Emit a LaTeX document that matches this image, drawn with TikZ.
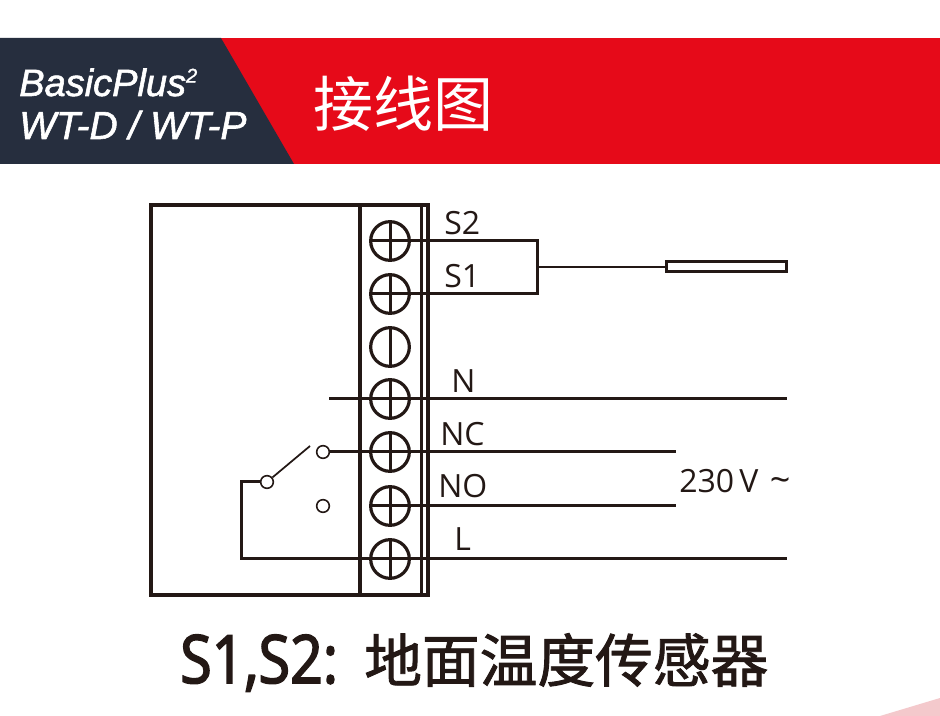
\documentclass[tikz,border=0pt]{standalone}
\usepackage{fontspec}
\setmainfont{Open Sans}
\newfontfamily\cjkreg{Noto Sans CJK SC}
\newfontfamily\cjkcap{Noto Sans CJK SC}[FakeBold=1.5]
\newfontfamily\capfont{Open Sans}[FakeBold=2.5,FakeStretch=0.86]
\newfontfamily\headfont{Liberation Sans}[ItalicFeatures={FakeBold=1.5}]
\definecolor{ink}{HTML}{231815}
\definecolor{bandred}{HTML}{E60A19}
\definecolor{banddark}{HTML}{262E3E}
\definecolor{cornerpink}{HTML}{F4C9CC}
\tikzset{
  wire/.style={draw=ink,line width=2.25pt},
  thinwire/.style={draw=ink,line width=1.9pt},
  boxline/.style={draw=ink,line width=2.3pt},
  screw/.style={circle,draw=ink,line width=2.4pt,minimum size=29pt,inner sep=0pt,fill=white},
  contact/.style={circle,draw=ink,line width=1.2pt,minimum size=9.5pt,inner sep=0pt,fill=white},
  termlabel/.style={text=ink,font=\fontsize{24}{24}\selectfont,inner sep=0pt},
}
\begin{document}
\begin{tikzpicture}[x=0.75pt,y=-0.75pt]
\useasboundingbox (0,0) rectangle (940,716);
\fill[white] (0,0) rectangle (940,716);
\fill[cornerpink] (880,716) -- (940,698) -- (940,716) -- cycle;
% header band
\fill[bandred] (0,38) rectangle (940,164);
\fill[banddark] (0,38) -- (221,38) -- (294,164) -- (0,164) -- cycle;
\node[anchor=base west,inner sep=0pt,text=white,font=\headfont\itshape\fontsize{28.5}{28.5}\selectfont] (brand) at (19,96) {BasicPlus\raisebox{10pt}{\fontsize{15}{15}\selectfont 2}};
\node[anchor=base west,inner sep=0pt,text=white,font=\headfont\itshape\fontsize{29.3}{29.3}\selectfont] (model) at (19,139) {WT-D / WT-P};
\node[anchor=base west,inner sep=0pt,text=white,font=\cjkreg\fontsize{45}{45}\selectfont] (title) at (313,127) {接线图};
% housing
\draw[boxline] (151,205) rectangle (428,595);
\draw[boxline] (360,205) -- (360,595);
\draw[boxline] (421.5,205) -- (421.5,595);
% screws
\node[screw] (t1) at (390,241) {};
\node[screw] (t2) at (390,294) {};
\node[screw] (t3) at (390,347) {};
\node[screw] (t4) at (390,399) {};
\node[screw] (t5) at (390,452) {};
\node[screw] (t6) at (390,506) {};
\node[screw] (t7) at (390,559) {};
\foreach \t in {t1,t2,t3,t4,t5,t6,t7}{\draw[wire] (\t.north) -- (\t.south);}
% coordinates
\coordinate (junction) at (537,267);
\coordinate (s2corner) at (537,241);
\coordinate (s1corner) at (537,294);
\coordinate (nleft) at (329,399);
\coordinate (nright) at (787,399);
\coordinate (ncright) at (676,452);
\coordinate (noright) at (676,506);
\coordinate (lright) at (787,559);
\coordinate (lcorner) at (241,559);
\coordinate (swcorner) at (241,482);
\coordinate (swtip) at (310,446);
% sensor
\node[draw=ink,line width=2.25pt,fill=white,minimum width=90pt,minimum height=7.5pt,inner sep=0pt] (sensor) at (726,267) {};
% wiring
\draw[wire] (t1.west) -- (s2corner) -- (s1corner) -- (t2.west);
\draw[thinwire] (junction) -- (sensor.west);
\draw[wire] (nleft) -- (nright);
\node[contact] (c1) at (323,452) {};
\node[contact] (c2) at (323,506) {};
\node[contact] (c0) at (267,482) {};
\draw[wire] (c1) -- (ncright);
\draw[wire] (t6.west) -- (noright);
\draw[wire] (c0) -- (swcorner) -- (lcorner) -- (lright);
\draw[thinwire,line width=1.3pt] (c0) -- (swtip);
% labels
\node[termlabel,anchor=base west] (ls2) at (444,235) {S2};
\node[termlabel,anchor=base west] (ls1) at (444,288) {S1};
\node[termlabel,anchor=base west] (ln) at (451,393) {N};
\node[termlabel,anchor=base west] (lnc) at (440,446) {NC};
\node[termlabel,anchor=base west] (lno) at (438,498) {NO};
\node[termlabel,anchor=base west] (ll) at (454,551) {L};
\node[termlabel,anchor=base west] (volt) at (679,493) {230\,V\hspace{8.5pt}{\fontsize{27}{27}\selectfont\textasciitilde}};
% caption
\node[anchor=base west,inner sep=0pt,text=ink,font=\capfont\fontsize{50}{50}\selectfont] (cap1) at (180,683) {S1,S2:};
\node[anchor=base west,inner sep=0pt,text=ink,font=\cjkcap\fontsize{43.3}{43.3}\selectfont] (cap2) at (364,682) {地面温度传感器};
\end{tikzpicture}
\end{document}
